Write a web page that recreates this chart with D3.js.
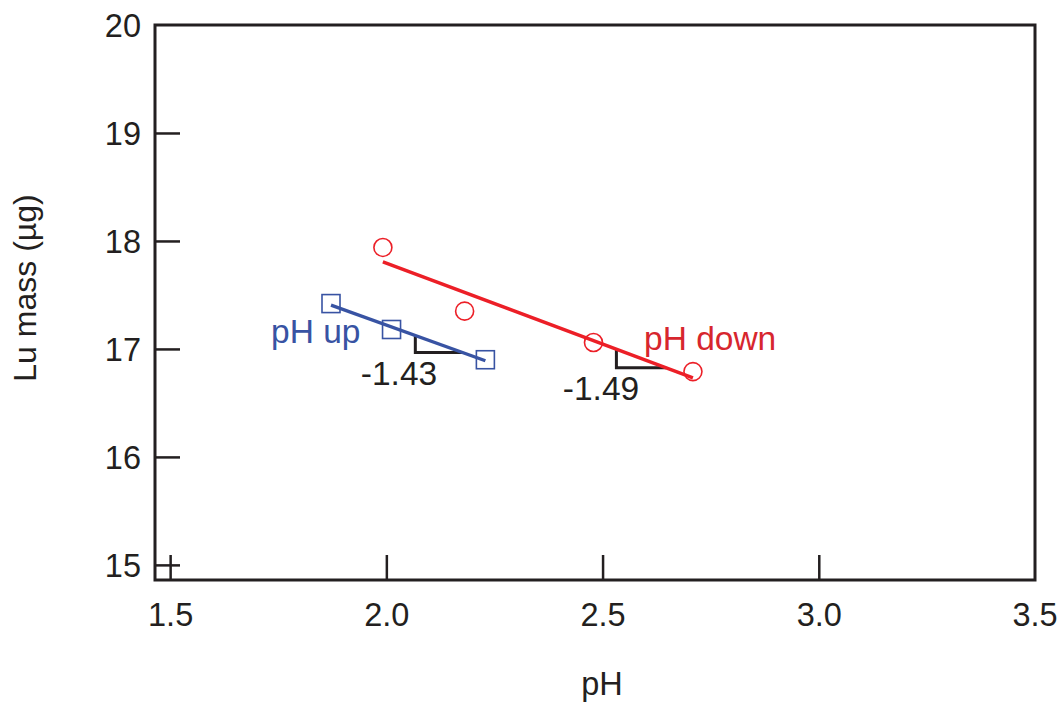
<!DOCTYPE html>
<html><head><meta charset="utf-8">
<script src="https://cdn.jsdelivr.net/npm/d3@7"></script>
<style>body{margin:0;background:#fff}svg{display:block;font-family:"Liberation Sans",Arial,sans-serif}</style>
</head><body>
<svg id="c" width="1063" height="705"></svg>
<script>
// Data
const upX = [1.872, 2.012, 2.229];
const upY = [17.42, 17.18, 16.90];
const downX = [1.992, 2.181, 2.479, 2.709];
const downY = [17.94, 17.35, 17.06, 16.79];
const xTicks = [1.5, 2.0, 2.5, 3.0, 3.5];
const yTicks = [15, 16, 17, 18, 19, 20];
const slopeLabels = ["-1.43", "-1.49"];
const seriesNames = ["pH up", "pH down"];
const triUp = [2.067, 2.176];
const triDown = [2.532, 2.647];

const W = 1063, H = 705;
const m = {l:155, t:25, r:28, b:125};
const x = d3.scaleLinear().domain([1.465, 3.5]).range([m.l, W - m.r]);
const y = d3.scaleLinear().domain([14.86, 20]).range([H - m.b, m.t]);
const svg = d3.select("#c");
const BLUE = "#3853a3", RED = "#ec1f27", REDT = "#d7262e", INK = "#231f20";

function fit(xs, ys){
  const mx = d3.mean(xs), my = d3.mean(ys);
  let sxy = 0, sxx = 0;
  xs.forEach((v,i)=>{ sxy += (v-mx)*(ys[i]-my); sxx += (v-mx)*(v-mx); });
  const b = sxy/sxx; return v => my + b*(v-mx);
}
const fUp = fit(upX, upY), fDown = fit(downX, downY);

// axes
const xa = d3.axisBottom(x).tickValues(xTicks.filter(v=>v<3.5)).tickSizeInner(-25).tickSizeOuter(0).tickFormat(d3.format(".1f"));
const gx = svg.append("g").attr("transform", `translate(0,${H-m.b})`).call(xa);
gx.select(".domain").remove();
gx.selectAll("line").attr("stroke", INK).attr("stroke-width", 2.5);
gx.selectAll("text").attr("y", 46).attr("dy", 0).attr("fill", INK).style("font-size","32.5px");
gx.append("text").attr("x", x(3.5)).attr("y", 46).attr("text-anchor","middle").attr("fill", INK).style("font-size","32.5px").text(d3.format(".1f")(3.5));

const ya = d3.axisLeft(y).tickValues(yTicks).tickSizeInner(-25).tickSizeOuter(0).tickFormat(d3.format("d"));
const gy = svg.append("g").attr("transform", `translate(${m.l},0)`).call(ya);
gy.select(".domain").remove();
gy.selectAll("line").attr("stroke", INK).attr("stroke-width", 2.5);
gy.selectAll("text").attr("x", -14).attr("dy", "0.36em").attr("fill", INK).style("font-size","32.5px");
gy.selectAll(".tick").filter(d=>d===20).select("line").remove();

// frame
svg.append("rect").attr("x", m.l).attr("y", m.t).attr("width", W-m.l-m.r).attr("height", H-m.t-m.b)
  .attr("fill","none").attr("stroke", INK).attr("stroke-width", 3);

// titles
svg.append("text").attr("x", 602).attr("y", 695).attr("text-anchor","middle").attr("fill", INK).style("font-size","32.5px").text("pH");
svg.append("text").attr("transform","translate(36,288) rotate(-90)").attr("text-anchor","middle").attr("fill", INK).style("font-size","32px").text("Lu mass (µg)");

// fit lines
function fitLine(xs, f, col){
  const x0 = d3.min(xs), x1 = d3.max(xs);
  svg.append("line").attr("x1", x(x0)).attr("y1", y(f(x0))).attr("x2", x(x1)).attr("y2", y(f(x1)))
    .attr("stroke", col).attr("stroke-width", 3.4);
}
function tri(t, f){
  const p = d3.path();
  p.moveTo(x(t[0]), y(f(t[0])));
  p.lineTo(x(t[0]), y(f(t[1])));
  p.lineTo(x(t[1]), y(f(t[1])));
  svg.append("path").attr("d", p.toString()).attr("fill","none").attr("stroke", INK).attr("stroke-width", 3);
}
tri(triUp, fUp); tri(triDown, fDown);
fitLine(upX, fUp, BLUE);
fitLine(downX, fDown, RED);

// markers
svg.append("g").selectAll("rect").data(upX.map((v,i)=>[v,upY[i]])).join("rect")
  .attr("x", d=>x(d[0])-9).attr("y", d=>y(d[1])-9).attr("width",18).attr("height",18)
  .attr("fill","none").attr("stroke", BLUE).attr("stroke-width",1.6);
svg.append("g").selectAll("circle").data(downX.map((v,i)=>[v,downY[i]])).join("circle")
  .attr("cx", d=>x(d[0])).attr("cy", d=>y(d[1])).attr("r", 9)
  .attr("fill","none").attr("stroke", RED).attr("stroke-width",1.6);

// labels
svg.append("text").attr("x", 271).attr("y", 343).attr("fill", BLUE).style("font-size","33.5px").text(seriesNames[0]);
svg.append("text").attr("x", 644).attr("y", 350).attr("fill", REDT).style("font-size","33.5px").text(seriesNames[1]);
svg.append("text").attr("x", 399).attr("y", 385).attr("text-anchor","middle").attr("fill", INK).style("font-size","33.5px").text(slopeLabels[0]);
svg.append("text").attr("x", 601).attr("y", 400).attr("text-anchor","middle").attr("fill", INK).style("font-size","33.5px").text(slopeLabels[1]);
</script>
</body></html>
